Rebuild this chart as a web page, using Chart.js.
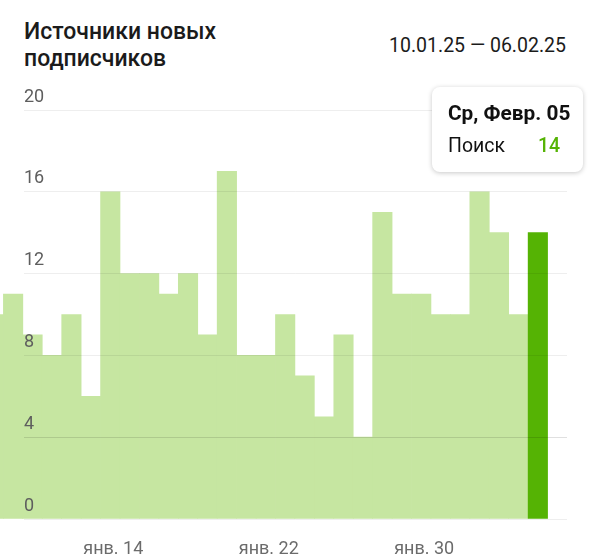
<!DOCTYPE html>
<html>
<head>
<meta charset="utf-8">
<script src="https://cdn.jsdelivr.net/npm/chart.js@4.4.1/dist/chart.umd.min.js"></script>
<style>
  html, body { margin: 0; padding: 0; background: #fff; }
  body { width: 589px; height: 555px; position: relative; overflow: hidden; font-family: Roboto, sans-serif; }
  #chartBox { position: absolute; left: 0; top: 0; width: 589px; height: 555px; }
  .title { position: absolute; left: 24px; top: 18px; font-size: 23px; font-weight: 500; line-height: 27px; color: #1b1b1b; }
  .range { position: absolute; right: 23px; top: 34px; font-size: 19.5px; line-height: 24px; color: #1b1b1b; }
  #tip { position: absolute; left: 432px; top: 87px; width: 151px; height: 85px; box-sizing: border-box;
         background: #fff; border-radius: 8px; box-shadow: 0 1px 5px rgba(0,0,0,0.22); padding: 13px 0 0 16px; opacity: 0; }
  #tip .t { font-size: 20.8px; font-weight: 700; color: #111; line-height: 26px; }
  #tip .row { margin-top: 8px; font-size: 19.5px; line-height: 24px; color: #111; }
  #tip .v { position: absolute; left: 106px; color: #55b304; font-weight: 500; }
</style>
</head>
<body>
<div class="title">Источники новых<br>подписчиков</div>
<div class="range">10.01.25 — 06.02.25</div>
<canvas id="chartBox" width="589" height="555"></canvas>
<div id="tip"><div class="t"></div><div class="row"><span class="n"></span><span class="v"></span></div></div>
<script>
// one bar per day, 08.01 .. 06.02 (the first two days are scrolled half out of view)
const days = ['янв. 8', 'янв. 9', 'янв. 10', 'янв. 11', 'янв. 12', 'янв. 13', 'янв. 14', 'янв. 15',
  'янв. 16', 'янв. 17', 'янв. 18', 'янв. 19', 'янв. 20', 'янв. 21', 'янв. 22', 'янв. 23', 'янв. 24',
  'янв. 25', 'янв. 26', 'янв. 27', 'янв. 28', 'янв. 29', 'янв. 30', 'янв. 31', 'февр. 1', 'февр. 2',
  'февр. 3', 'февр. 4', 'февр. 5', 'февр. 6'];
const search = [10, 11, 9, 8, 10, 6, 16, 12, 12, 11, 12, 9, 17, 8, 8, 10, 7, 5, 9, 4, 15, 11, 11, 10, 10, 16, 14, 10, 14, null];
const xTicks = ['янв. 14', 'янв. 22', 'янв. 30'];
const yTicks = [0, 4, 8, 12, 16, 20];
const seriesName = 'Поиск';
const activeIndex = 28;
const tooltipTitle = 'Ср, Февр. 05';

function externalTip({ tooltip }) {
    const el = document.getElementById('tip');
    if (tooltip.opacity === 0 || !tooltip.dataPoints) {
        el.style.opacity = 0;
        return;
    }
    const p = tooltip.dataPoints[0];
    el.querySelector('.t').textContent = tooltipTitle;
    el.querySelector('.n').textContent = p.dataset.label;
    el.querySelector('.v').textContent = p.parsed.y;
    el.style.opacity = 1;
}

const ctx = document.getElementById('chartBox').getContext('2d');
const chart = new Chart(ctx, {
    type: 'bar',
    data: {
        datasets: [{
            label: seriesName,
            data: search.map((v, i) => ({ x: i, y: v })),
            backgroundColor: c => c.dataIndex === activeIndex ? '#55b304' : '#c6e6a1',
            borderWidth: 0,
            barPercentage: 1,
            categoryPercentage: 1,
            clip: { left: 30, top: 5, right: 0, bottom: 0 }
        }]
    },
    options: {
        responsive: false,
        animation: false,
        events: [],
        layout: { padding: { left: 24, right: 22, top: 110, bottom: 0 } },
        plugins: {
            legend: { display: false },
            tooltip: { enabled: false, external: externalTip }
        },
        scales: {
            x: {
                type: 'linear',
                offset: false,
                min: 1.56,
                max: 29.5,
                grid: { display: false },
                border: { display: false },
                afterBuildTicks: s => { s.ticks = xTicks.map(l => ({ value: days.indexOf(l) })); },
                afterFit: s => { s.height = 36; },
                ticks: {
                    callback: v => days[v],
                    color: '#6b6b6b',
                    font: { family: 'Roboto', size: 18 },
                    padding: 12,
                    labelOffset: 3,
                    maxRotation: 0,
                    autoSkip: false
                }
            },
            y: {
                min: 0,
                max: 20,
                afterBuildTicks: s => { s.ticks = yTicks.map(v => ({ value: v })); },
                afterFit: s => { s.width = 0; },
                border: { display: false },
                grid: {
                    z: 1,
                    drawTicks: false,
                    color: c => c.tick && c.tick.value === 4 ? 'rgba(0,0,0,0.12)' : 'rgba(0,0,0,0.065)'
                },
                ticks: {
                    z: 1,
                    mirror: true,
                    padding: 0,
                    labelOffset: -13,
                    color: '#5e5e5e',
                    font: { family: 'Roboto', size: 18 }
                }
            }
        }
    }
});

chart.tooltip.setActiveElements([{ datasetIndex: 0, index: activeIndex }], { x: 0, y: 0 });
chart.update();
</script>
</body>
</html>
